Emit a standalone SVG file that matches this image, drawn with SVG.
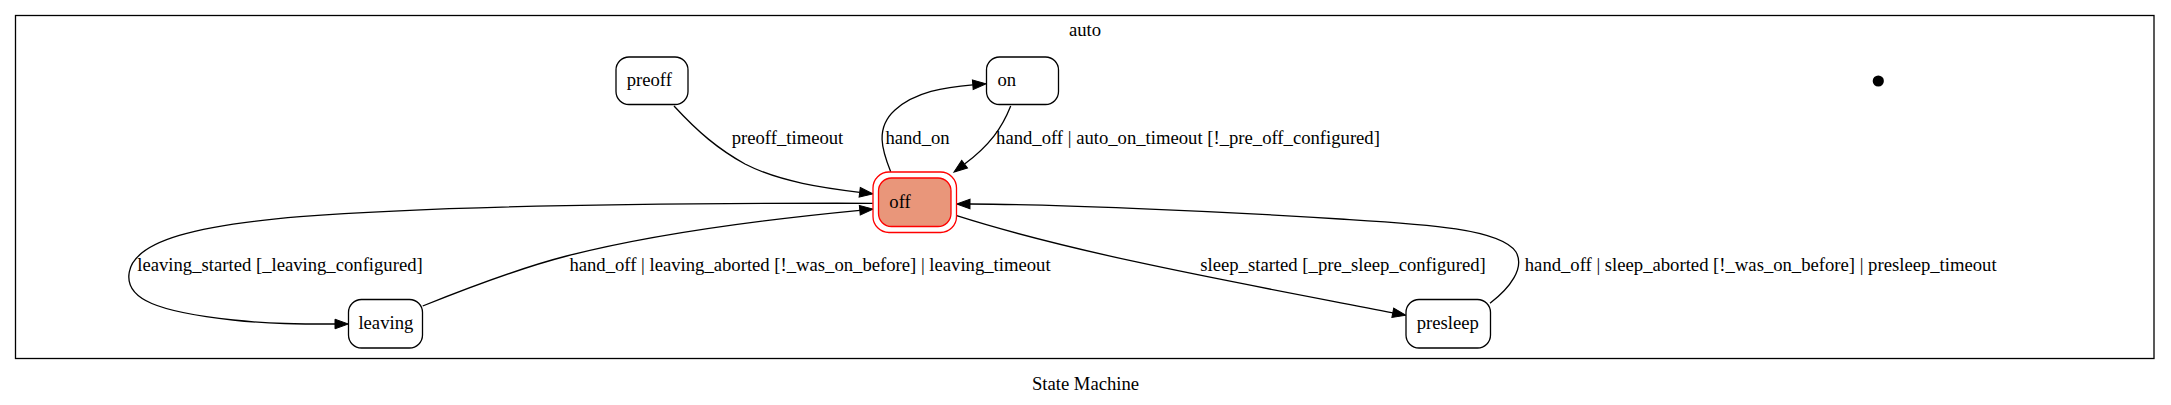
<svg xmlns="http://www.w3.org/2000/svg" width="2171" height="405" viewBox="0 0 2171 405">
<style>
text{font-family:"Liberation Serif","Times New Roman",serif;font-size:18.67px;fill:#000}
.node{fill:#fff;stroke:#000;stroke-width:1.3}
.edge{fill:none;stroke:#000;stroke-width:1.3}
.lbl{text-anchor:middle}
</style>
<defs>
<marker id="arr" markerUnits="userSpaceOnUse" markerWidth="15" markerHeight="11" refX="0" refY="4.8" orient="auto" overflow="visible">
<path d="M0,0 L13.3,4.8 L0,9.6 Z" fill="#000" stroke="#000" stroke-width="1"/>
</marker>
</defs>
<rect width="2171" height="405" fill="#fff"/>
<g id="cluster_auto">
<rect x="15.5" y="15.5" width="2138.5" height="343" fill="none" stroke="#000" stroke-width="1.3"/>
<text class="lbl" x="1085" y="36">auto</text>
</g>
<g id="connectors">
<path class="edge" marker-end="url(#arr)" d="M674,106 C698,132 718,149 745,164 C780,182 825,188 859.7,192.3"/>
<text class="lbl" x="787.5" y="144">preoff_timeout</text>
<path class="edge" marker-end="url(#arr)" d="M890.7,171.7 C882,150 875,128 895,110 C915,92 945,87 972.8,84.8"/>
<text class="lbl" x="917.5" y="144">hand_on</text>
<path class="edge" marker-end="url(#arr)" d="M1010.7,106 C1002,128 990,145 964.6,164.1"/>
<text class="lbl" x="1188" y="144">hand_off | auto_on_timeout [!_pre_off_configured]</text>
<path class="edge" marker-end="url(#arr)" d="M872.7,203.3 C700,203 450,205 300,216.7 C200,225 135,240 129.3,272 C124,300 160,312 233,320 C270,324 300,324 335,324"/>
<text class="lbl" x="280" y="270.5">leaving_started [_leaving_configured]</text>
<path class="edge" marker-end="url(#arr)" d="M422.7,306 C470,287 520,268 566.7,256 C660,232 780,218 859.8,210.3"/>
<text class="lbl" x="810" y="270.5">hand_off | leaving_aborted [!_was_on_before] | leaving_timeout</text>
<path class="edge" marker-end="url(#arr)" d="M956.7,215.7 C1080,255 1250,285 1392.8,312.8"/>
<text class="lbl" x="1343" y="270.5">sleep_started [_pre_sleep_configured]</text>
<path class="edge" marker-end="url(#arr)" d="M1490,303.3 C1510,288 1525,268 1516,252 C1500,228 1420,224 1340,219 C1200,210 1050,204.5 970,204"/>
<text class="lbl" x="1760.7" y="270.5">hand_off | sleep_aborted [!_was_on_before] | presleep_timeout</text>
</g>
<g id="node_initial">
<circle cx="1878.3" cy="81" r="5.6" fill="#000"/>
</g>
<g id="node_preoff">
<rect class="node" x="616" y="57" width="72" height="47.5" rx="13" ry="13"/>
<text x="626.7" y="86">preoff</text>
</g>
<g id="node_on">
<rect class="node" x="986.5" y="57" width="72" height="47.5" rx="13" ry="13"/>
<text x="997.5" y="86">on</text>
</g>
<g id="node_off">
<rect x="873" y="172" width="83.5" height="60.5" rx="16" ry="16" fill="#fff" stroke="#ff0000" stroke-width="1.3"/>
<rect x="878.5" y="178" width="72.5" height="48.5" rx="13" ry="13" fill="#e9967a" stroke="#ff0000" stroke-width="1.3"/>
<text x="889.3" y="207.7">off</text>
</g>
<g id="node_leaving">
<rect class="node" x="348.5" y="299.5" width="74" height="48.5" rx="13" ry="13"/>
<text x="358.4" y="328.5">leaving</text>
</g>
<g id="node_presleep">
<rect class="node" x="1406" y="299.5" width="84.5" height="48.5" rx="13" ry="13"/>
<text x="1416.7" y="328.5">presleep</text>
</g>
<text class="lbl" x="1085.5" y="389.5">State Machine</text>
</svg>
